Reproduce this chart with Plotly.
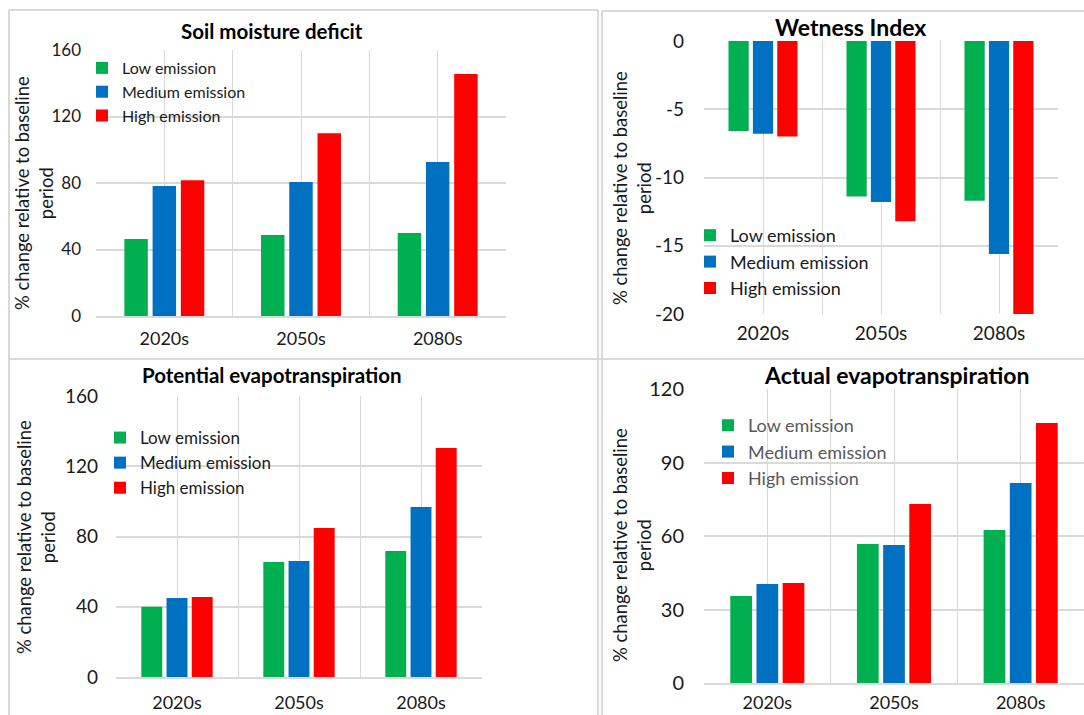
import plotly.graph_objects as go

# Decades on the x axis and emission scenarios
categories = ["2020s", "2050s", "2080s"]
scenarios = ["Low emission", "Medium emission", "High emission"]
scenario_colors = ["#00B050", "#0070C0", "#FF0000"]

# % change relative to baseline period
smd_low = [46.3, 48.7, 49.9]
smd_medium = [78.2, 80.6, 92.6]
smd_high = [81.6, 110.0, 145.6]

wet_low = [-6.6, -11.4, -11.7]
wet_medium = [-6.8, -11.8, -15.6]
wet_high = [-7.0, -13.2, -20.0]

pet_low = [40.0, 65.5, 71.8]
pet_medium = [45.0, 66.1, 96.8]
pet_high = [45.6, 84.9, 130.4]

aet_low = [35.5, 56.7, 62.4]
aet_medium = [40.4, 56.3, 81.6]
aet_high = [40.8, 73.1, 106.1]

# Wetness index ticks are written with a plain hyphen
wet_ticks = [-20, -15, -10, -5, 0]
wet_ticktext = ["-20", "-15", "-10", "-5", "0"]

W, H = 1084, 715
FONT = "Lato, Carlito, Calibri, sans-serif"
GRID = "#D9D9D9"
TXT = "#1a1a1a"


def px_x(a, b):
    return [a / W, b / W]


def px_y(top, bottom):
    return [1 - bottom / H, 1 - top / H]


panels = [
    dict(n=1, title="Soil moisture deficit", series=[smd_low, smd_medium, smd_high],
         box=(96, 506, 50, 316), yr=[0, 160], dt=40, tfs=17, xfs=18, xstand=6, lfs=16,
         lpos=(82, 51), lcol=TXT, title_xy=(272, 31), title_fs=20.5,
         ytitle_xy=(34, 193), ystand=16),
    dict(n=2, title="Wetness Index", series=[wet_low, wet_medium, wet_high],
         box=(704, 1058, 41, 314), yr=[-20, 0], dt=5, tfs=19, xfs=19, xstand=6, lfs=18,
         lpos=(690, 217), lcol=TXT, title_xy=(850, 27), title_fs=23,
         ytitle_xy=(632, 188), ystand=21),
    dict(n=3, title="Potential evapotranspiration", series=[pet_low, pet_medium, pet_high],
         box=(116, 482, 396, 677), yr=[0, 160], dt=40, tfs=19, xfs=18, xstand=9, lfs=17,
         lpos=(100, 420), lcol=TXT, title_xy=(272, 375), title_fs=20.5,
         ytitle_xy=(36, 537), ystand=19),
    dict(n=4, title="Actual evapotranspiration", series=[aet_low, aet_medium, aet_high],
         box=(704, 1084, 389, 683), yr=[0, 120], dt=30, tfs=20, xfs=18, xstand=3, lfs=18,
         lpos=(708, 407), lcol="#595959", title_xy=(896, 375), title_fs=23,
         ytitle_xy=(632, 545), ystand=21),
]

fig = go.Figure()
xpos = list(range(len(categories)))
annotations = []
layout_axes = {}

for p in panels:
    n = p["n"]
    sfx = "" if n == 1 else str(n)
    leg = "legend" if n == 1 else f"legend{n}"
    for name, vals, col in zip(scenarios, p["series"], scenario_colors):
        fig.add_trace(go.Bar(
            x=xpos, y=vals, name=name, marker=dict(color=col, line=dict(width=0)),
            xaxis=f"x{sfx}", yaxis=f"y{sfx}", legend=leg, showlegend=True,
            hoverinfo="x+y+name",
        ))
    x0, x1, y0, y1 = p["box"]
    # grid lines at category centres and at the boundaries between them
    tv, tt = [], []
    for i, c in enumerate(categories):
        tv += [i - 0.5, i]
        tt += ["", c]
    tv.append(len(categories) - 0.5)
    tt.append("")
    layout_axes[f"xaxis{sfx}"] = dict(
        domain=px_x(x0, x1), anchor=f"y{sfx}", range=[-0.5, len(categories) - 0.5],
        tickmode="array", tickvals=tv, ticktext=tt, showgrid=True, gridcolor=GRID,
        gridwidth=1, zeroline=False, showline=(n != 2), linecolor=GRID, linewidth=1.5,
        ticks="", tickfont=dict(family=FONT, size=p["xfs"], color=TXT),
        ticklabelstandoff=p["xstand"], fixedrange=True, automargin=False,
    )
    yax = dict(
        domain=px_y(y0, y1), anchor=f"x{sfx}", range=p["yr"], dtick=p["dt"],
        tick0=0, showgrid=True, gridcolor=GRID, gridwidth=1.5, zeroline=False,
        showline=False, ticks="", tickfont=dict(family=FONT, size=p["tfs"], color=TXT),
        ticklabelstandoff=p["ystand"] - 2, fixedrange=True, automargin=False,
    )
    if n == 2:
        yax.update(tickmode="array", tickvals=wet_ticks, ticktext=wet_ticktext)
    layout_axes[f"yaxis{sfx}"] = yax
    layout_axes[leg] = dict(
        x=p["lpos"][0] / W, y=1 - p["lpos"][1] / H, xanchor="left", yanchor="top",
        bgcolor="rgba(0,0,0,0)", borderwidth=0, tracegroupgap=0,
        font=dict(family=FONT, size=p["lfs"], color=p["lcol"]), itemwidth=30,
    )
    tx, ty = p["title_xy"]
    annotations.append(dict(
        text=f"<b>{p['title']}</b>", x=tx / W, y=1 - ty / H, xref="paper", yref="paper",
        xanchor="center", yanchor="middle", showarrow=False,
        font=dict(family=FONT, size=p["title_fs"], color="#000000"),
    ))
    ax, ay = p["ytitle_xy"]
    annotations.append(dict(
        text="% change relative to baseline<br>period", x=ax / W, y=1 - ay / H,
        xref="paper", yref="paper", xanchor="center", yanchor="middle",
        showarrow=False, textangle=-90,
        font=dict(family=FONT, size=18.4, color=TXT),
    ))

# light frames around the four chart panels
frame = dict(color=GRID, width=2)
shapes = [
    dict(type="line", xref="paper", yref="paper", x0=9 / W, x1=598 / W, y0=1 - 10 / H, y1=1 - 10 / H, line=frame),
    dict(type="line", xref="paper", yref="paper", x0=9 / W, x1=9 / W, y0=0, y1=1 - 10 / H, line=frame),
    dict(type="line", xref="paper", yref="paper", x0=598 / W, x1=598 / W, y0=0, y1=1 - 10 / H, line=frame),
    dict(type="line", xref="paper", yref="paper", x0=602 / W, x1=1, y0=1 - 11 / H, y1=1 - 11 / H, line=frame),
    dict(type="line", xref="paper", yref="paper", x0=602 / W, x1=602 / W, y0=0, y1=1 - 11 / H, line=frame),
    dict(type="line", xref="paper", yref="paper", x0=9 / W, x1=1, y0=1 - 359 / H, y1=1 - 359 / H, line=frame),
]

fig.update_layout(
    template="none",
    width=W, height=H, margin=dict(l=0, r=0, t=0, b=0, autoexpand=False),
    paper_bgcolor="white", plot_bgcolor="white",
    barmode="group", bargap=0.38, bargroupgap=0.17,
    annotations=annotations, shapes=shapes,
    font=dict(family=FONT, color=TXT),
    **layout_axes,
)

fig.write_html("out.html")
